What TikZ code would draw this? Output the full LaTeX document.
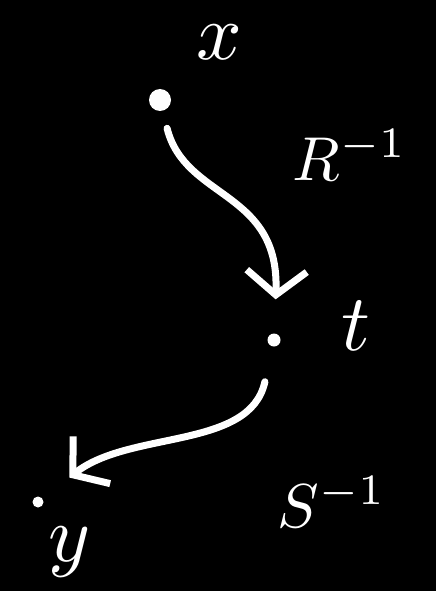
\documentclass[tikz,border=0pt]{standalone}
\usetikzlibrary{arrows.meta}
\begin{document}
\begin{tikzpicture}[x=1pt,y=-1pt,
  chalk/.style={draw=white,line width=7pt,line cap=round,line join=round},
  arr/.style={chalk,-{Straight Barb[length=24pt,width=60pt,line width=7pt]}},
  pt/.style={circle,fill=white,inner sep=0pt},
  big/.style={text=white,scale=8,inner sep=0pt},
  mid/.style={text=white,scale=6.2,inner sep=0pt}]
  \fill[black] (0,0) rectangle (436,591);
  \useasboundingbox (0,0) rectangle (436,591);
  % points
  \node[pt,minimum size=22pt] (xd) at (160,100) {};
  \node[pt,minimum size=13pt] (td) at (274,340) {};
  \node[pt,minimum size=11pt] (yd) at (38,502) {};
  % point names
  \node[big] (xl) at (219,42) {$x$};
  \node[big] (tl) at (356,326) {$t$};
  \node[big] (yl) at (70,552) {$y$};
  % maps
  \node[mid] (rl) at (350,155) {$R^{-1}$};
  \node[mid] (sl) at (332,502) {$S^{-1}$};
  \draw[arr,shorten <=18pt,shorten >=34pt] (xd) .. controls (185,200) and (280,190) .. (td);
  \draw[arr,shorten <=36pt,shorten >=34pt] (td) .. controls (250,450) and (130,430) .. (yd);
\end{tikzpicture}
\end{document}
